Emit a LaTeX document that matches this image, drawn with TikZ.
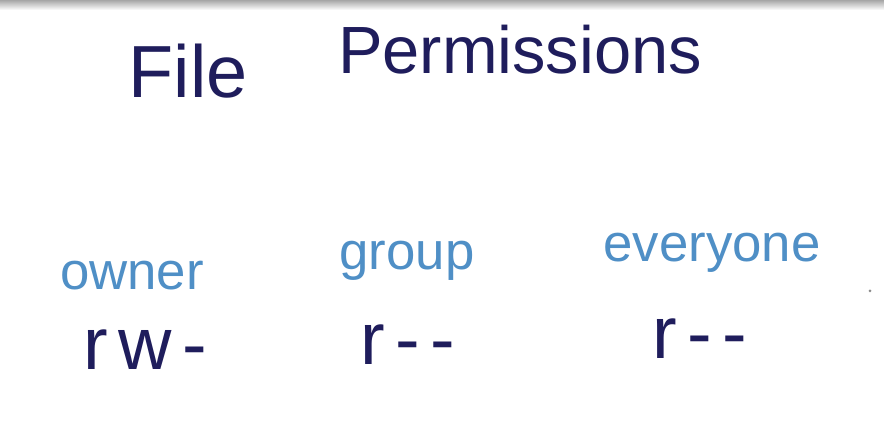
\documentclass[tikz,border=0pt]{standalone}
\usepackage{fontspec}
\setmainfont{Liberation Sans}
\definecolor{inkdark}{HTML}{1F1D5C}
\definecolor{inkblue}{HTML}{4F8FC6}
\newcommand{\titlesize}{\fontsize{19}{22}\selectfont}
\newcommand{\labelsize}{\fontsize{15}{18}\selectfont}
\newcommand{\bitsize}{\fontsize{21}{25}\selectfont}
\newcommand{\gap}{\kern3pt}

\begin{document}
\begin{tikzpicture}[x=0.01cm, y=-0.01cm,
    heading/.style={anchor=base, text=inkdark, font=\titlesize, inner sep=0pt},
    who/.style={anchor=base, text=inkblue, font=\labelsize, inner sep=0pt},
    bits/.style={anchor=base, text=inkdark, font=\bitsize, inner sep=0pt}]

        % Canvas and top shadow
        \fill[white] (0, 0) rectangle (884, 440);
        \shade[top color=black!35, bottom color=white] (0, 0) rectangle (884, 10);
        \useasboundingbox (0, 0) rectangle (884, 440);

        % --- Title ---
        \node[heading, font=\fontsize{21}{24}\selectfont] (file) at (188, 98) {File};
        \node[heading] (perm) at (520, 74) {Permissions};

        % --- Classes of users ---
        \node[who] (owner) at (132, 290) {owner};
        \node[who] (group) at (407, 270) {group};
        \node[who] (everyone) at (712, 262) {everyone};

        % --- Permission bits ---
        \node[bits] (ownerbits) at (145, 370) {r\gap w\gap -};
        \node[bits] (groupbits) at (408, 365) {r\gap -\gap -};
        \node[bits] (everyonebits) at (700, 359) {r\gap -\gap -};

        % stray mark on the board
        \fill[black!45] (870, 291) circle (1.5);

    \end{tikzpicture}
\end{document}
